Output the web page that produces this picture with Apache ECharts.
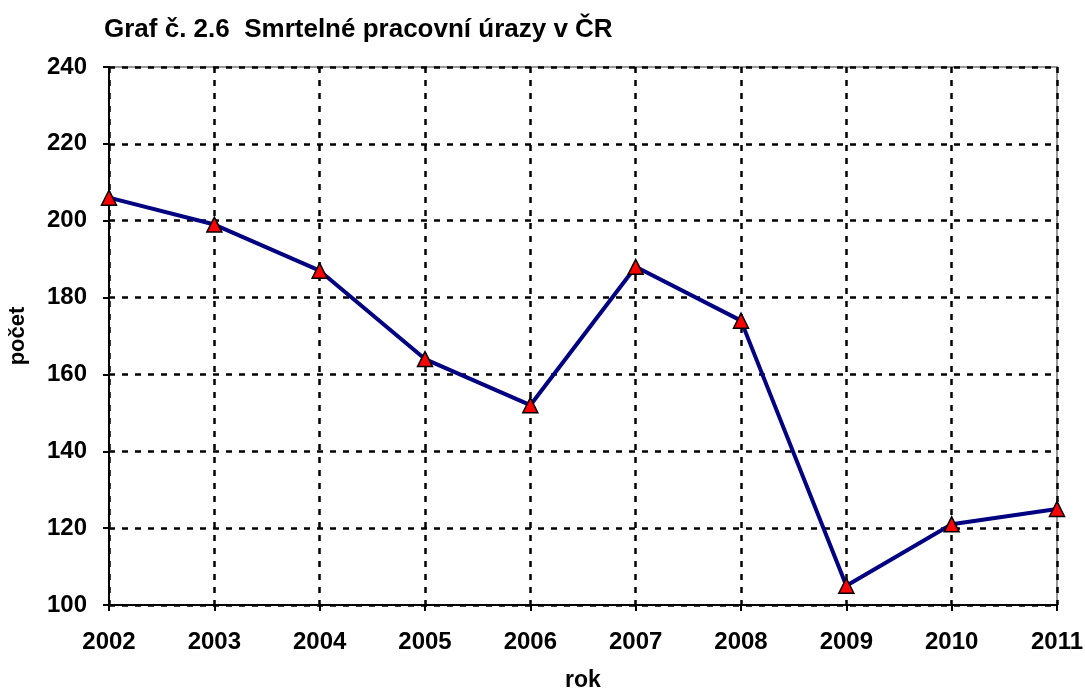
<!DOCTYPE html>
<html>
<head>
<meta charset="utf-8">
<script src="https://cdn.jsdelivr.net/npm/echarts@6/dist/echarts.min.js"></script>
<style>
html,body{margin:0;padding:0;background:#fff;}
#main{width:1085px;height:691px;}
</style>
</head>
<body>
<div id="main"></div>
<script>
var years = ['2002', '2003', '2004', '2005', '2006', '2007', '2008', '2009', '2010', '2011'];
var deaths = [206, 199, 187, 164, 152, 188, 174, 105, 121, 125];

var myChart = echarts.init(document.getElementById('main'));
var font = 'Liberation Sans, Arial, sans-serif';
var option = {
    backgroundColor: '#fff',
    animation: false,
    title: {
        text: 'Graf č. 2.6  Smrtelné pracovní úrazy v ČR',
        left: 99,
        top: 12,
        textStyle: { fontFamily: font, fontSize: 26, fontWeight: 'bold', color: '#000' }
    },
    grid: {
        left: 109, right: 28, top: 67, bottom: 86,
        outerBoundsMode: 'none',
        show: true, borderColor: '#999', borderWidth: 2
    },
    xAxis: {
        type: 'category',
        data: years,
        boundaryGap: false,
        name: 'rok',
        nameLocation: 'middle',
        nameGap: 64,
        nameTextStyle: { fontFamily: font, fontSize: 23, fontWeight: 'bold', color: '#000' },
        axisLine: { lineStyle: { color: '#000', width: 2 } },
        axisTick: { show: true, length: 6, lineStyle: { color: '#000', width: 2 } },
        axisLabel: { fontFamily: font, fontSize: 24, fontWeight: 'bold', color: '#000', margin: 25 },
        splitLine: { show: true, lineStyle: { color: '#000', width: 2.5, type: [6, 7] } }
    },
    yAxis: {
        type: 'value',
        min: 100,
        max: 240,
        interval: 20,
        name: 'počet',
        nameLocation: 'middle',
        nameGap: 80,
        nameTextStyle: { fontFamily: font, fontSize: 22, fontWeight: 'bold', color: '#000' },
        axisLine: { show: true, lineStyle: { color: '#000', width: 2 } },
        axisTick: { show: true, length: 6, lineStyle: { color: '#000', width: 2 } },
        axisLabel: { fontFamily: font, fontSize: 24, fontWeight: 'bold', color: '#000', margin: 22 },
        splitLine: { show: true, lineStyle: { color: '#000', width: 2.5, type: [6, 7] } }
    },
    series: [
        {
            type: 'line',
            data: deaths,
            lineStyle: { color: '#000080', width: 4 },
            symbol: 'triangle',
            symbolSize: 15,
            itemStyle: { color: '#ff0000', borderColor: '#000', borderWidth: 1.5 }
        }
    ]
};
myChart.setOption(option);
</script>
</body>
</html>
